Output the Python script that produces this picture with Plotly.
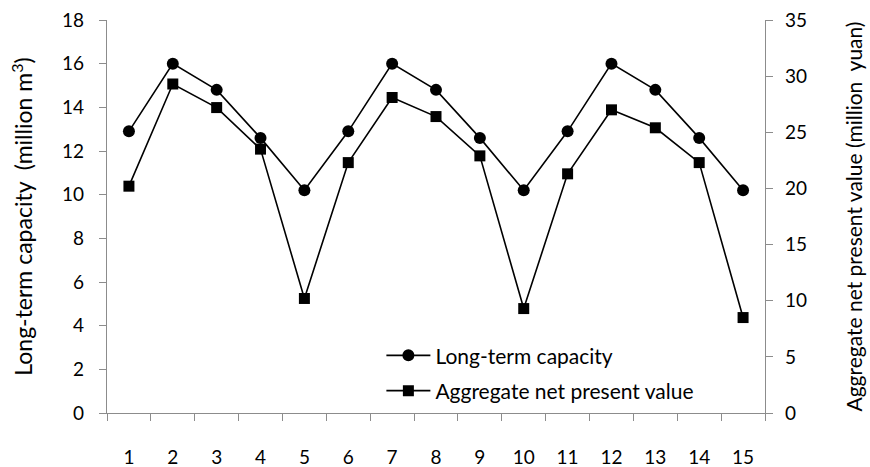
import plotly.graph_objects as go

# Scenario index along the horizontal axis
periods = [str(i) for i in range(1, 16)]

# Long-term capacity (million m3), left axis
capacity = [12.9, 16.0, 14.8, 12.6, 10.2,
            12.9, 16.0, 14.8, 12.6, 10.2,
            12.9, 16.0, 14.8, 12.6, 10.2]

# Aggregate net present value (million yuan), right axis
npv = [20.2, 29.3, 27.2, 23.5, 10.2,
       22.3, 28.1, 26.4, 22.9, 9.3,
       21.3, 27.0, 25.4, 22.3, 8.5]

FONT = "Lato, Carlito, Calibri, sans-serif"
AXIS_GRAY = "#8c8c8c"
TICK_SIZE = 19

fig = go.Figure()

fig.add_trace(go.Scatter(
    x=periods, y=capacity, name="Long-term capacity",
    mode="lines+markers", yaxis="y", legendgroup="a",
    line=dict(color="black", width=1.6),
    marker=dict(symbol="circle", size=12, color="black"),
))
fig.add_trace(go.Scatter(
    x=periods, y=npv, name="Aggregate net present value",
    mode="lines+markers", yaxis="y2", legendgroup="b",
    line=dict(color="black", width=1.6),
    marker=dict(symbol="square", size=11, color="black"),
))

fig.update_layout(
    width=870, height=467,
    margin=dict(l=107, r=105, t=20, b=54),
    paper_bgcolor="white", plot_bgcolor="white",
    font=dict(family=FONT, size=TICK_SIZE, color="black"),
    showlegend=True,
    legend=dict(
        x=0.417, y=0.198, xanchor="left", yanchor="top",
        bgcolor="rgba(0,0,0,0)", tracegroupgap=5, itemwidth=44,
        font=dict(size=21),
    ),
    xaxis=dict(
        type="category", range=[-0.5, len(periods) - 0.5],
        showgrid=False, zeroline=False, automargin=False,
        showline=True, linecolor=AXIS_GRAY, linewidth=1.3,
        ticks="outside", tickson="boundaries", ticklen=7,
        tickcolor=AXIS_GRAY, tickwidth=1.3,
        ticklabelstandoff=27,
        tickfont=dict(size=TICK_SIZE),
    ),
    yaxis=dict(
        range=[0, 18], dtick=2, showgrid=False, zeroline=False,
        automargin=False,
        showline=True, linecolor=AXIS_GRAY, linewidth=1.3,
        ticks="outside", ticklen=7, tickcolor=AXIS_GRAY, tickwidth=1.3,
        ticklabelstandoff=11,
        tickfont=dict(size=TICK_SIZE),
        title=dict(text="Long-term capacity  (million m<sup>3</sup>)",
                   font=dict(size=23), standoff=22),
    ),
    yaxis2=dict(
        range=[0, 35], dtick=5, overlaying="y", side="right",
        showgrid=False, zeroline=False, automargin=False,
        showline=True, linecolor=AXIS_GRAY, linewidth=1.3,
        ticks="outside", ticklen=7, tickcolor=AXIS_GRAY, tickwidth=1.3,
        ticklabelstandoff=8,
        tickfont=dict(size=TICK_SIZE),
        title=dict(text="Aggregate net present value (million  yuan)",
                   font=dict(size=21), standoff=41),
    ),
)

fig.write_html("out.html")
